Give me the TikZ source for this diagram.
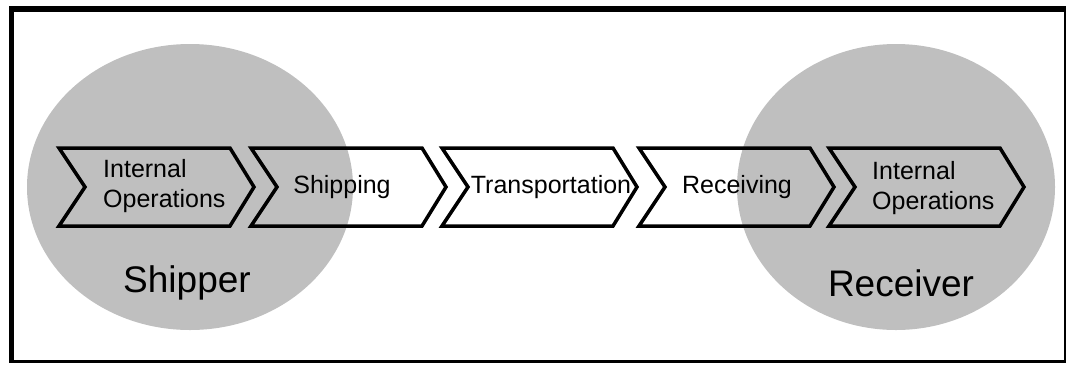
\documentclass[tikz,border=0pt]{standalone}
\usepackage{fontspec}
\setmainfont{Liberation Sans}
\tikzset{
    chev/.style={line width=3.5pt, line join=miter},
    blob/.style={fill=black!25},
    steplbl/.style={font=\fontsize{25}{30}\selectfont, inner sep=0pt},
    party/.style={font=\fontsize{37}{42}\selectfont, inner sep=0pt},
}
\begin{document}
\begin{tikzpicture}[x=1pt, y=-1pt]
    \useasboundingbox (0,0) rectangle (1067,365);
    % frame, heavier on top and left
    \fill (9,6) rectangle (1066,12);
    \fill (9,6) rectangle (14,363);
    \fill (9,360) rectangle (1066,363);
    \fill (1064,6) rectangle (1066,363);
    % the two parties
    \fill[blob] (190,187) ellipse [x radius=163pt, y radius=143pt];
    \fill[blob] (896,187) ellipse [x radius=159pt, y radius=143pt];
    \foreach \x [count=\i] in {59,251,442,639,829}{
        % top left corner is (x,148), the notch is (x+26,187)
        \draw[chev] (\x,148) -- ++(171,0) -- ++(24,39) -- ++(-24,39)
            -- ++(-171,0) -- ++(26,-39) -- cycle;
        \coordinate (c\i) at (\x,187);
    }
    \node[steplbl, anchor=west, align=left] (opsA) at (103,186) {Internal\\Operations};
    \node[steplbl] (ship) at (342,187) {Shipping};
    \node[steplbl] (trans) at (551,187) {Transportation};
    \node[steplbl] (recv) at (737,187) {Receiving};
    \node[steplbl, anchor=west, align=left] (opsB) at (872,188) {Internal\\Operations};
    \node[party] (shipper) at (187,283) {Shipper};
    \node[party] (receiver) at (901,283) {Receiver};
\end{tikzpicture}
\end{document}
